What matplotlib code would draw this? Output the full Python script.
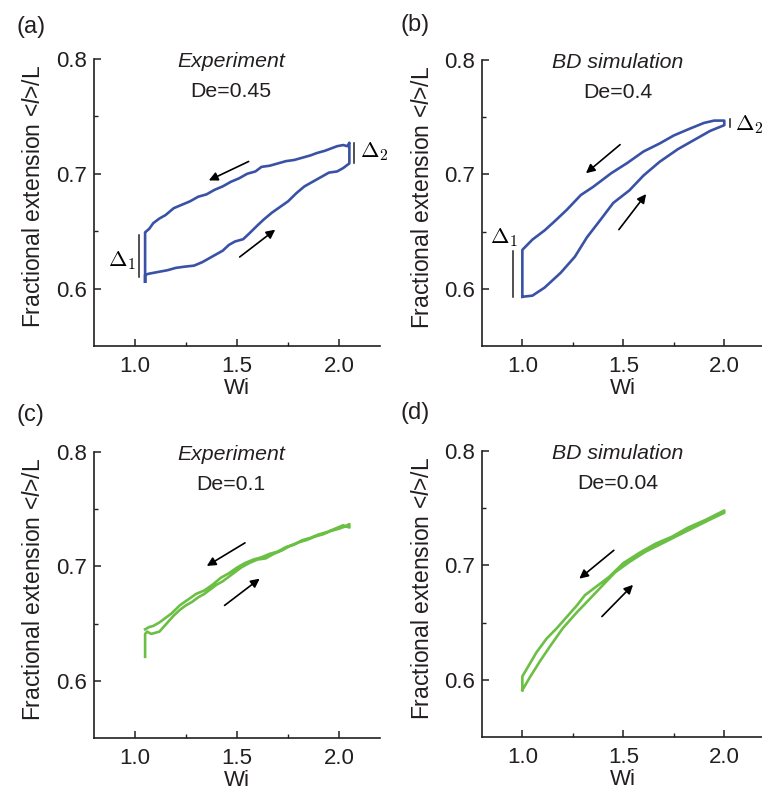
import matplotlib
matplotlib.use('Agg')
from matplotlib import pyplot as plt

plt.rcParams['font.family'] = ['Liberation Sans', 'DejaVu Sans']
plt.rcParams['mathtext.fontset'] = 'custom'
plt.rcParams['mathtext.rm'] = 'Liberation Sans'
plt.rcParams['mathtext.it'] = 'Liberation Sans:italic'

BLUE = '#3a52a6'
GREEN = '#6cbf45'
INK = '#231f20'

# (a) experiment, De=0.45 : one closed loop, rising branch then falling branch
a_wi = [1.05, 1.05, 1.07, 1.10, 1.13, 1.16, 1.20, 1.24, 1.29, 1.33, 1.36, 1.40, 1.43, 1.46, 1.49,
        1.53, 1.56, 1.60, 1.63, 1.67, 1.71, 1.75, 1.79, 1.83, 1.87, 1.91, 1.95, 1.99, 2.02, 2.05,
        2.05, 2.04, 2.02, 1.99, 1.96, 1.93, 1.89, 1.86, 1.82, 1.78, 1.74, 1.70, 1.66, 1.62, 1.59,
        1.55, 1.51, 1.47, 1.43, 1.39, 1.35, 1.31, 1.27, 1.23, 1.19, 1.15, 1.12, 1.09, 1.07, 1.05,
        1.05, 1.05]
a_ext = [0.606, 0.612, 0.613, 0.614, 0.615, 0.616, 0.618, 0.619, 0.620, 0.623, 0.626, 0.630, 0.633, 0.638, 0.641,
         0.643, 0.648, 0.655, 0.660, 0.666, 0.671, 0.676, 0.683, 0.689, 0.693, 0.697, 0.701, 0.702, 0.705, 0.709,
         0.727, 0.724, 0.725, 0.724, 0.722, 0.720, 0.718, 0.716, 0.714, 0.712, 0.711, 0.709, 0.707, 0.706, 0.702,
         0.700, 0.696, 0.693, 0.689, 0.686, 0.682, 0.680, 0.676, 0.673, 0.670, 0.664, 0.661, 0.657, 0.652, 0.649,
         0.648, 0.606]

# (b) BD simulation, De=0.4
b_wi = [1.00, 1.05, 1.11, 1.19, 1.26, 1.32, 1.39, 1.45, 1.53, 1.60, 1.68, 1.77, 1.85, 1.93, 2.00,
        2.00, 1.95, 1.90, 1.83, 1.75, 1.68, 1.60, 1.52, 1.44, 1.35, 1.29, 1.22, 1.16, 1.11, 1.05, 1.00,
        1.00]
b_ext = [0.593, 0.594, 0.601, 0.614, 0.628, 0.645, 0.661, 0.675, 0.686, 0.699, 0.711, 0.722, 0.730, 0.738, 0.743,
         0.747, 0.747, 0.745, 0.740, 0.734, 0.727, 0.720, 0.710, 0.701, 0.689, 0.682, 0.669, 0.659, 0.651, 0.643, 0.634,
         0.593]

# (c) experiment, De=0.1
c_wi = [1.05, 1.05, 1.06, 1.08, 1.10, 1.12, 1.14, 1.16, 1.19, 1.22, 1.25, 1.28, 1.31, 1.34, 1.37, 1.40,
        1.43, 1.46, 1.49, 1.52, 1.56, 1.60, 1.64, 1.68, 1.72, 1.76, 1.80, 1.84, 1.88, 1.92, 1.96,
        2.00, 2.03, 2.05,
        2.05, 2.02, 1.98, 1.94, 1.90, 1.86, 1.82, 1.78, 1.74, 1.70, 1.66, 1.62, 1.58, 1.54, 1.50,
        1.46, 1.42, 1.38, 1.34, 1.30, 1.26, 1.22, 1.18, 1.15, 1.12, 1.09, 1.07, 1.05]
c_ext = [0.621, 0.641, 0.643, 0.641, 0.642, 0.643, 0.647, 0.651, 0.657, 0.662, 0.666, 0.669, 0.673, 0.676, 0.680, 0.684,
         0.687, 0.691, 0.695, 0.699, 0.703, 0.706, 0.707, 0.711, 0.714, 0.718, 0.721, 0.723, 0.726, 0.728, 0.731,
         0.733, 0.735, 0.737,
         0.734, 0.736, 0.733, 0.730, 0.728, 0.725, 0.723, 0.719, 0.717, 0.713, 0.711, 0.708, 0.706, 0.703, 0.699,
         0.694, 0.690, 0.684, 0.679, 0.676, 0.671, 0.666, 0.659, 0.655, 0.651, 0.648, 0.647, 0.645]

# (d) BD simulation, De=0.04
d_wi = [1.00, 1.04, 1.09, 1.14, 1.20, 1.27, 1.33, 1.40, 1.46, 1.53, 1.61, 1.69, 1.78, 1.86, 1.94, 2.00,
        2.00, 1.91, 1.82, 1.74, 1.66, 1.58, 1.50, 1.43, 1.37, 1.31, 1.27, 1.22, 1.17, 1.12, 1.07, 1.04, 1.00,
        1.00]
d_ext = [0.591, 0.603, 0.617, 0.630, 0.645, 0.659, 0.670, 0.683, 0.694, 0.703, 0.712, 0.719, 0.727, 0.734, 0.741, 0.746,
         0.748, 0.740, 0.733, 0.725, 0.719, 0.711, 0.702, 0.690, 0.682, 0.674, 0.665, 0.655, 0.645, 0.636, 0.624, 0.615, 0.603,
         0.591]

panel_x = [a_wi, b_wi, c_wi, d_wi]
panel_y = [a_ext, b_ext, c_ext, d_ext]
panel_colors = [BLUE, BLUE, GREEN, GREEN]
panel_tags = ['(a)', '(b)', '(c)', '(d)']
panel_kind = ['Experiment', 'BD simulation', 'Experiment', 'BD simulation']
panel_de = ['De=0.45', 'De=0.4', 'De=0.1', 'De=0.04']

# arrows: (start x, start y, end x, end y) for falling and rising branch
arrows = [
    [(1.557, 0.7107, 1.362, 0.6942), (1.513, 0.6275, 1.687, 0.6513)],
    [(1.484, 0.726, 1.315, 0.701), (1.478, 0.6517, 1.613, 0.6828)],
    [(1.539, 0.7206, 1.352, 0.7004), (1.439, 0.6659, 1.611, 0.6893)],
    [(1.453, 0.7132, 1.282, 0.6884), (1.394, 0.6553, 1.548, 0.6830)],
]

# axes rectangles in figure fraction
rects = [
    [0.1234, 0.5615, 0.3753, 0.3638],
    [0.6325, 0.5615, 0.3710, 0.3625],
    [0.1234, 0.0646, 0.3753, 0.3625],
    [0.6325, 0.0659, 0.3710, 0.3625],
]
tag_pos = [(17, 27), (400, 25), (17, 415), (400, 413)]

fig = plt.figure(figsize=(7.62, 7.89), dpi=100)

axes = []
for i in range(4):
    ax = fig.add_axes(rects[i])
    axes.append(ax)
    ax.plot(panel_x[i], panel_y[i], color=panel_colors[i], lw=1.9, solid_joinstyle='round')
    ax.set_xlim(0.8, 2.2)
    ax.set_ylim(0.55, 0.8)
    for s in ['top', 'right']:
        ax.spines[s].set_visible(False)
    for s in ['left', 'bottom']:
        ax.spines[s].set_linewidth(1.2)
        ax.spines[s].set_color(INK)
    ax.set_xticks([1.0, 1.5, 2.0])
    ax.set_xticks([1.25, 1.75], minor=True)
    ax.set_yticks([0.6, 0.7, 0.8])
    ax.set_yticks([0.65, 0.75], minor=True)
    ax.set_xticklabels(['1.0', '1.5', '2.0'])
    ax.set_yticklabels(['0.6', '0.7', '0.8'])
    ax.tick_params(which='major', direction='in', length=5, width=1.1, color=INK,
                   labelsize=16, labelcolor=INK)
    ax.tick_params(which='minor', direction='in', length=3, width=1.0, color=INK)
    ax.tick_params(axis='x', which='major', pad=7)
    ax.tick_params(axis='y', which='major', pad=5)
    ax.set_xlabel('Wi', fontsize=16, color=INK)
    ax.xaxis.set_label_coords(0.5, -0.112)
    ax.set_ylabel(r'Fractional extension <$\mathit{l}$>/L', fontsize=16.5, color=INK)
    ax.yaxis.set_label_coords(-0.17, 0.52)
    ax.text(0.48, 0.99, panel_kind[i], transform=ax.transAxes, ha='center', va='center',
            fontsize=15.3, style='italic', color=INK)
    ax.text(0.48, 0.885, panel_de[i], transform=ax.transAxes, ha='center', va='center',
            fontsize=15.3, color=INK)
    for x0, y0, x1, y1 in arrows[i]:
        ax.annotate('', xy=(x1, y1), xytext=(x0, y0),
                    arrowprops=dict(arrowstyle='-|>', color='k', lw=1.2,
                                    mutation_scale=13, shrinkA=0, shrinkB=0))
    fig.text(tag_pos[i][0] / 762, 1 - tag_pos[i][1] / 789, panel_tags[i],
             fontsize=17, ha='left', va='center', color=INK)

# hysteresis gaps
ax = axes[0]
ax.plot([1.02, 1.02], [0.610, 0.647], color=INK, lw=1.1)
ax.text(1.005, 0.624, r'$\Delta_1$', math_fontfamily='cm', fontsize=16, ha='right', va='center')
ax.plot([2.073, 2.073], [0.7096, 0.727], color=INK, lw=1.1)
ax.text(2.1, 0.719, r'$\Delta_2$', math_fontfamily='cm', fontsize=16, ha='left', va='center',
        clip_on=False)

ax = axes[1]
ax.plot([0.955, 0.955], [0.593, 0.6326], color=INK, lw=1.1)
ax.text(0.91, 0.645, r'$\Delta_1$', math_fontfamily='cm', fontsize=16, ha='center', va='center')
ax.plot([2.029, 2.029], [0.741, 0.748], color=INK, lw=1.1)
ax.text(2.055, 0.7436, r'$\Delta_2$', math_fontfamily='cm', fontsize=16, ha='left', va='center',
        clip_on=False)

fig.savefig('out.png', dpi=100)
